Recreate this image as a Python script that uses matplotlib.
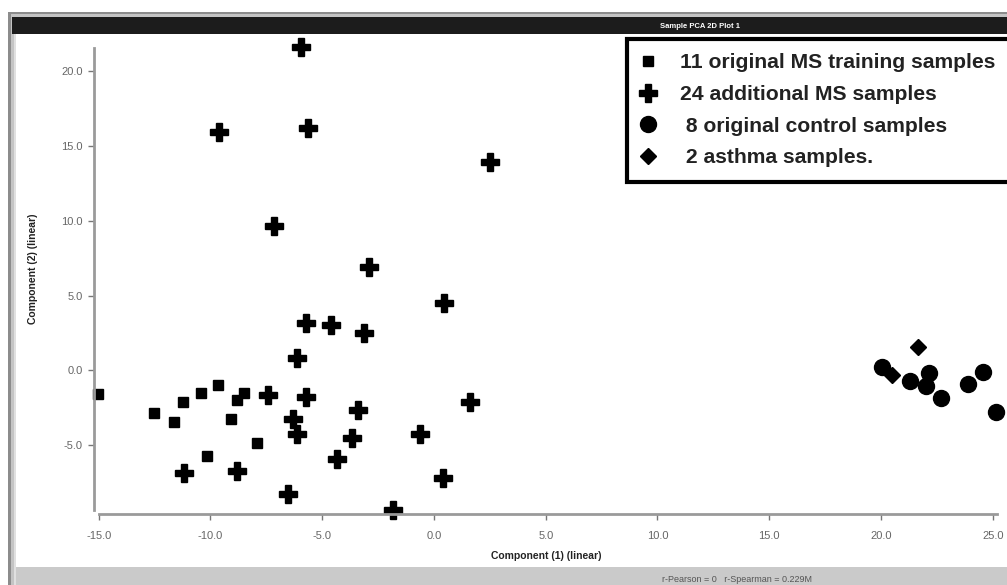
import matplotlib
matplotlib.use("Agg")
import matplotlib.pyplot as plt
from matplotlib.patches import Rectangle
from matplotlib.ticker import FormatStrFormatter

plt.rcParams['axes.unicode_minus'] = False
plt.rcParams['font.family'] = ['Liberation Sans', 'DejaVu Sans']

# data
ms_train_x = [-15.02, -12.53, -11.62, -11.22, -10.44, -9.68, -8.80, -8.50, -9.10, -7.90, -10.17]
ms_train_y = [-1.59, -2.86, -3.42, -2.08, -1.48, -0.97, -1.97, -1.48, -3.26, -4.82, -5.71]

ms_add_x = [-5.95, -9.62, -5.65, 2.50, -7.14, -2.91, 0.45, -5.73, -4.62, -3.15, -6.12, -7.44, -5.73,
            -3.39, 1.61, -6.29, -6.12, -3.65, -0.63, -4.33, -11.19, -8.80, 0.42, -6.52, -1.85]
ms_add_y = [21.6, 15.9, 16.2, 13.9, 9.65, 6.93, 4.49, 3.19, 3.04, 2.53, 0.81, -1.64, -1.75,
            -2.64, -2.08, -3.26, -4.26, -4.53, -4.26, -5.91, -6.87, -6.71, -7.16, -8.25, -9.32]

control_x = [20.03, 21.30, 22.16, 22.01, 22.68, 23.90, 24.58, 25.15]
control_y = [0.25, -0.70, -0.19, -1.02, -1.86, -0.90, -0.08, -2.75]

asthma_x = [21.64, 20.48]
asthma_y = [1.59, -0.30]

labels = ["11 original MS training samples", "24 additional MS samples",
          " 8 original control samples", " 2 asthma samples."]
x_ticks = [-15, -10, -5, 0, 5, 10, 15, 20, 25]
y_ticks = [-5, 0, 5, 10, 15, 20]

W, H = 1007, 585
fig = plt.figure(figsize=(W / 100, H / 100), dpi=100, facecolor='white')

def box(x0, y0, x1, y1, color, z=-10):
    # pixel box -> figure fraction
    fig.patches.append(Rectangle((x0 / W, 1 - y1 / H), (x1 - x0) / W, (y1 - y0) / H,
                                 transform=fig.transFigure, facecolor=color,
                                 edgecolor='none', zorder=z))

# window frame
box(8, 12, 1010, 590, '#8c8c8c')
box(11, 14, 1010, 590, '#c4c4c4')
box(14, 17, 1010, 590, '#e0e0e0')
box(12, 17, 1010, 34, '#1c1c1c')
box(16, 34, 1010, 567, 'white')
box(16, 567, 1010, 590, '#cacaca')

fig.text(700 / W, 1 - 26 / H, "Sample PCA 2D Plot 1", color='white', fontsize=5.5,
         fontweight='bold', ha='center', va='center')
fig.text(737 / W, 1 - 579 / H, "r-Pearson = 0   r-Spearman = 0.229M", color='#555555',
         fontsize=6.5, ha='center', va='center')

ax = fig.add_axes([94 / W, 1 - 514 / H, (997 - 94) / W, (514 - 48) / H])
ax.patch.set_alpha(0)
ax.set_xlim(-15.21, 25.19)
ax.set_ylim(-9.59, 21.54)

h1, = ax.plot(ms_train_x, ms_train_y, 's', color='black', markersize=7.8, linestyle='none', clip_on=False)
h2, = ax.plot(ms_add_x, ms_add_y, 'P', color='black', markersize=12.5, linestyle='none', clip_on=False)
h3, = ax.plot(control_x, control_y, 'o', color='black', markersize=11.5, linestyle='none', clip_on=False)
h4, = ax.plot(asthma_x, asthma_y, 'D', color='black', markersize=8.5, linestyle='none', clip_on=False)

for s in ['top', 'right']:
    ax.spines[s].set_visible(False)
for s in ['left', 'bottom']:
    ax.spines[s].set_color('#9a9a9a')
    ax.spines[s].set_linewidth(2)
ax.spines['bottom'].set_bounds(-15, 25.19)
ax.spines['left'].set_bounds(-9.3, 21.54)

ax.set_xticks(x_ticks)
ax.set_yticks(y_ticks)
ax.xaxis.set_major_formatter(FormatStrFormatter('%.1f'))
ax.yaxis.set_major_formatter(FormatStrFormatter('%.1f'))
ax.tick_params(direction='out', length=4, width=1, color='#777777', labelcolor='#666666',
               labelsize=8)
ax.tick_params(axis='x', pad=8)
ax.tick_params(axis='y', pad=4)

fig.text(546 / W, 1 - 556 / H, "Component (1) (linear)", fontsize=7.5, fontweight='bold',
         color='#222222', ha='center', va='center')
fig.text(33 / W, 1 - 269 / H, "Component (2) (linear)", fontsize=7.5, fontweight='bold',
         color='#222222', ha='center', va='center', rotation=90)

leg = ax.legend([h1, h2, h3, h4], labels, loc='upper left',
                bbox_to_anchor=(627 / W, 1 - 39 / H), bbox_transform=fig.transFigure,
                frameon=True, fancybox=False, edgecolor='black', framealpha=1,
                borderaxespad=0, borderpad=0.68, handlelength=0.65, handletextpad=1.2,
                labelspacing=0.6, prop={'family': 'Liberation Sans', 'weight': 'bold', 'size': 15.2})
leg.get_frame().set_linewidth(3)
for t in leg.get_texts():
    t.set_color('#222222')

fig.savefig("out.png", dpi=100)
